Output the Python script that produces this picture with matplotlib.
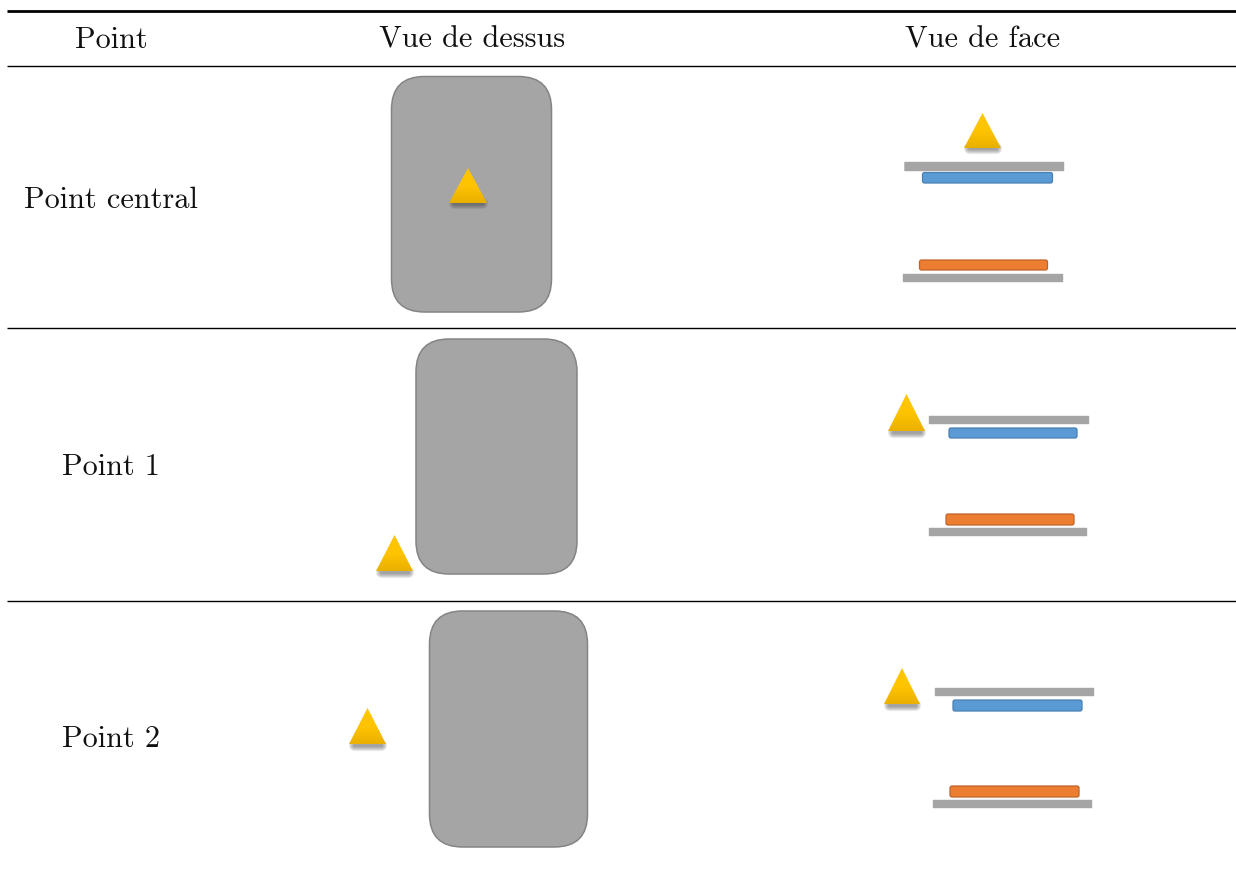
import numpy as np
import matplotlib
matplotlib.use('Agg')
import matplotlib.pyplot as plt
from matplotlib.colors import LinearSegmentedColormap
from matplotlib.patches import FancyBboxPatch, Polygon

plt.rcParams['font.family'] = ['cmr10', 'DejaVu Serif']
plt.rcParams['axes.formatter.use_mathtext'] = True

# en-tetes et lignes du tableau
headers = ['Point', 'Vue de dessus', 'Vue de face']
header_x = [111, 472, 983]
row_labels = ['Point central', 'Point 1', 'Point 2']
row_x = [111, 111, 111]
row_y = [198, 465, 737]

# filets horizontaux : y, epaisseur
rule_y = [11, 66, 328, 601]
rule_lw = [2.0, 1.0, 1.0, 1.0]

# vue de dessus : x0, x1, y0, y1
top_plate = [(391.5, 551.5, 76.5, 312), (416, 577, 339, 574), (429.5, 587.5, 611, 847)]

# triangles : x gauche, x droit, y sommet, y base
triangles = [
    (449, 487, 168, 203), (964, 1001, 113, 148),
    (376, 413, 535, 571), (888, 925, 394, 431),
    (349, 386, 708, 744), (884, 920, 668, 704),
]

# vue de face : x0, x1, y0, y1
grey_bars = [
    (904.5, 1064, 162, 171), (903, 1063, 274, 282),
    (929, 1089, 416, 424), (929, 1087, 528, 536),
    (935, 1094, 688, 696), (933, 1092, 800, 808),
]
blue_bars = [(922.5, 1052.5, 172.5, 183), (949, 1077, 428, 438), (953, 1082, 700, 711)]
orange_bars = [(919.5, 1047.5, 260, 270), (946, 1074, 514, 525), (950, 1079, 786, 797)]

fig = plt.figure(figsize=(12.36, 8.72), dpi=100)
ax = fig.add_axes([0, 0, 1, 1])
ax.set_xlim(0, 1236)
ax.set_ylim(872, 0)
ax.axis('off')


def draw_box(box, face, edge, radius, lw=1.0):
    x0, x1, y0, y1 = box
    patch = FancyBboxPatch((x0 + radius, y0 + radius), x1 - x0 - 2 * radius, y1 - y0 - 2 * radius,
                           boxstyle='round,pad=%g,rounding_size=%g' % (radius, radius),
                           facecolor=face, edgecolor=edge, linewidth=lw, zorder=2)
    ax.add_patch(patch)


def draw_triangle(tri):
    x0, x1, y0, y1 = tri
    xm = (x0 + x1) / 2
    # ombre floue sous la base
    for w in [8, 6.5, 5, 3.5, 2]:
        ax.plot([x0 + 5, x1 - 5], [y1 + 0.5, y1 + 0.5], color='#303030', lw=w,
                alpha=0.11, solid_capstyle='round', zorder=3)
    poly = Polygon([(x0, y1), (xm, y0), (x1, y1)], closed=True, facecolor='none',
                   edgecolor='none', zorder=4)
    ax.add_patch(poly)
    grad = np.linspace(0, 1, 40).reshape(-1, 1)
    im = ax.imshow(grad, extent=(x0, x1, y1, y0), cmap=tri_cmap, aspect='auto', zorder=4)
    im.set_clip_path(poly)


tri_cmap = LinearSegmentedColormap.from_list('tri', ['#FFC600', '#FFC400', '#E9B000'])

for y, lw in zip(rule_y, rule_lw):
    ax.plot([7, 1236], [y, y], color='black', lw=lw, solid_capstyle='butt', zorder=1)

for x, label in zip(header_x, headers):
    ax.text(x, 40, label, ha='center', va='center', fontsize=21.8, color='#111111')
for x, y, label in zip(row_x, row_y, row_labels):
    ax.text(x, y + 2, label, ha='center', va='center', fontsize=21.8, color='#111111')

for box in top_plate:
    draw_box(box, '#A5A5A5', '#848484', 33, lw=1.1)
for box in grey_bars:
    draw_box(box, '#A5A5A5', '#A5A5A5', 0.5, lw=0.3)
for box in blue_bars:
    draw_box(box, '#5B9BD5', '#4A80B2', 2, lw=0.9)
for box in orange_bars:
    draw_box(box, '#ED7D31', '#BF6428', 2, lw=0.9)
for tri in triangles:
    draw_triangle(tri)

ax.set_xlim(0, 1236)
ax.set_ylim(872, 0)
fig.savefig('out.png', dpi=100)
